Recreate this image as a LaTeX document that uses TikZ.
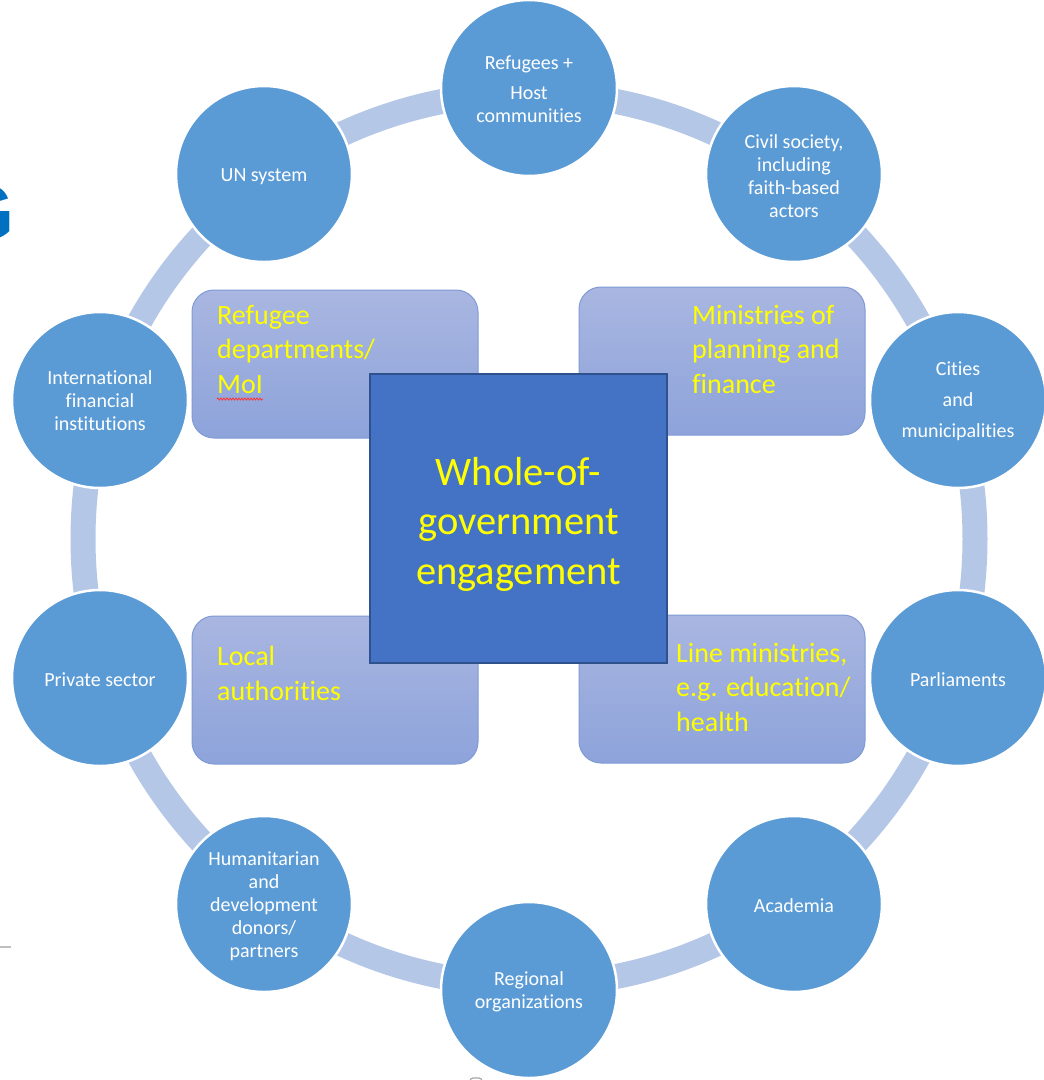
\documentclass[tikz,border=0pt]{standalone}
\usepackage{fontspec}
\usetikzlibrary{decorations.pathmorphing}
\setmainfont{Carlito}[Ligatures={NoCommon}]
\newfontfamily\gfont{Liberation Sans}
\definecolor{circ}{RGB}{91,155,213}
\definecolor{bandc}{RGB}{180,199,231}
\definecolor{boxtop}{RGB}{169,182,225}
\definecolor{boxbot}{RGB}{141,163,218}
\definecolor{boxline}{RGB}{127,155,214}
\definecolor{sq}{RGB}{68,114,196}
\definecolor{sqline}{RGB}{47,82,143}
\definecolor{gblue}{RGB}{0,112,192}
\definecolor{ytext}{RGB}{255,255,0}
\begin{document}
\begin{tikzpicture}[x=1pt,y=-1pt,
  actor/.style={circle, fill=circ, draw=white, line width=2.5pt, minimum size=176pt,
    inner sep=0pt},
  actortext/.style={inner sep=0pt, align=center, text=white, font=\fontsize{20}{23}\selectfont},
  band/.style={draw=bandc, line width=25pt},
  govbox/.style={rectangle, rounded corners=22pt, draw=boxline, line width=1pt,
    top color=boxtop, bottom color=boxbot, inner sep=0pt,
    minimum width=286pt, minimum height=148pt},
  boxtext/.style={anchor=north west, inner sep=0pt, align=left, text=ytext,
    font=\fontsize{28}{34.5}\selectfont},
  core/.style={rectangle, fill=sq, draw=sqline, line width=2pt, inner sep=0pt,
    minimum width=297pt, minimum height=289pt},
  coretext/.style={inner sep=0pt, align=center, text=ytext,
    font=\fontsize{40.5}{49.5}\selectfont},
  squiggle/.style={draw=red!80, line width=0.8pt, decorate,
    decoration={snake, amplitude=1pt, segment length=3pt}}]
\useasboundingbox (0,0) rectangle (1044,1080);
\clip (0,0) rectangle (1044,1080);
\fill[white] (0,0) rectangle (1044,1080);

% partial marks at the edges
\node[anchor=base east, inner sep=0pt, text=gblue, font=\gfont\bfseries\fontsize{80}{80}\selectfont] (g) at (15,240) {G};
\coordinate (la) at (0,947);
\coordinate (lb) at (11,947);
\draw[black!25, line width=1.5pt] (la) -- (lb);
\coordinate (ma) at (470,1086);
\coordinate (mb) at (482,1086);
\draw[black!35, line width=1.2pt, rounded corners=3pt] (ma) -- (470,1078) -- (482,1078) -- (mb);

% ring
\coordinate (ctr) at (529,539);
\draw[band] (ctr) circle[radius=446pt];

% government boxes
\node[govbox] (refdep) at (335,364) {};
\node[govbox] (minplan) at (722,361) {};
\node[govbox] (local) at (335,690) {};
\node[govbox] (line) at (722,689) {};

\node[boxtext] (trefdep) at (217,305) {Refugee\\departments/\\MoI};
\coordinate (ua) at (217,399);
\coordinate (ub) at (263,399);
\draw[squiggle] (ua) -- (ub);
\node[boxtext] (tminplan) at (692,305) {Ministries of\\planning and\\finance};
\node[boxtext] (tlocal) at (217,646) {Local\\authorities};
\node[boxtext] (tline) at (676,643) {Line ministries,\\e.g. education/\\health};

\node[core] (core) at (518.5,518.5) {};
\node[coretext] (tcore) at (518.5,524) {Whole-of-\\government\\engagement};

% actors
\node[actor] (c1) at (529,88) {};
\node[actor] (c2) at (794,174) {};
\node[actor] (c3) at (958,400) {};
\node[actor] (c4) at (958,678) {};
\node[actor] (c5) at (794,904) {};
\node[actor] (c6) at (529,990) {};
\node[actor] (c7) at (264,904) {};
\node[actor] (c8) at (100,678) {};
\node[actor] (c9) at (100,400) {};
\node[actor] (c10) at (264,174) {};

\node[actortext] (t1) at (529,89) {Refugees +\\[7pt]Host\\communities};
\node[actortext] (t2) at (794,176) {Civil society,\\including\\faith-based\\actors};
\node[actortext] (t3) at (958,401) {Cities\\[8pt]and\\[8pt]municipalities};
\node[actortext] (t4) at (958,680) {Parliaments};
\node[actortext] (t5) at (794,906) {Academia};
\node[actortext] (t6) at (529,992) {Regional\\organizations};
\node[actortext] (t7) at (264,906) {Humanitarian\\and\\development\\donors/\\partners};
\node[actortext] (t8) at (100,680) {Private sector};
\node[actortext] (t9) at (100,401) {International\\financial\\institutions};
\node[actortext] (t10) at (264,177) {UN system};
\end{tikzpicture}
\end{document}
